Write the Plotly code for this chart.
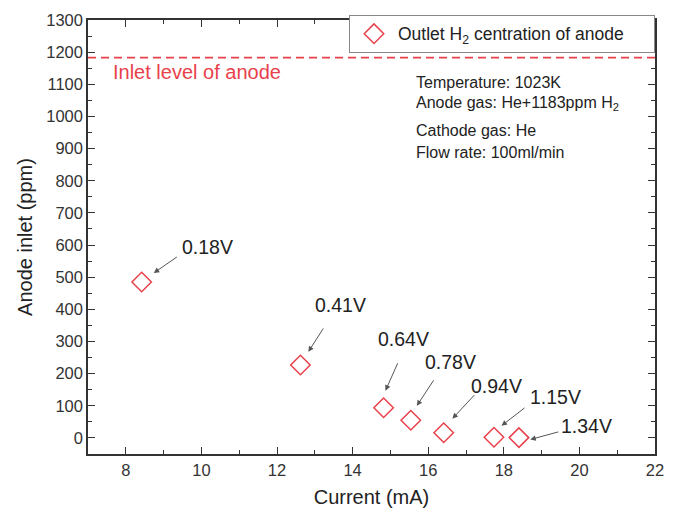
import plotly.graph_objects as go

# Data
current_mA = [8.42, 12.62, 14.82, 15.54, 16.41, 17.74, 18.40]
outlet_ppm = [485, 227, 94, 55, 16, 2, 1]
voltage_labels = ["0.18V", "0.41V", "0.64V", "0.78V", "0.94V", "1.15V", "1.34V"]
inlet_level_ppm = 1183

# label text offsets (data units, relative to point) and arrow tail/tip offsets
label_dx = [1.74, 1.07, 0.52, 1.05, 1.40, 1.64, 1.79]
label_dy = [109, 187, 214, 182, 147, 126, 37]
tail_dx = [0.97, 0.63, 0.39, 0.63, 0.85, 0.85, 1.08]
tail_dy = [81, 118, 143, 129, 122, 95, 19]
tip_dx = [0.32, 0.21, 0.05, 0.16, 0.23, 0.20, 0.30]
tip_dy = [28, 41, 53, 45, 44, 36, -6]

FONT = "Arial, Liberation Sans, sans-serif"
RED = "#e8414b"

fig = go.Figure()
fig.add_trace(go.Scatter(
    x=current_mA, y=outlet_ppm, mode="markers",
    name="Outlet H<sub>2</sub> centration of anode" + "\u00a0" * 5,
    marker=dict(symbol="diamond-open", size=15, color=RED, line=dict(width=1.5, color=RED)),
))
# inlet level dashed line
fig.add_trace(go.Scatter(
    x=[7, 22], y=[inlet_level_ppm, inlet_level_ppm], mode="lines",
    line=dict(color=RED, width=1.6, dash="8px,5px"), showlegend=False, hoverinfo="skip",
))

annotations = []
for xi, yi, lab, ldx, ldy, tdx, tdy, pdx, pdy in zip(current_mA, outlet_ppm, voltage_labels,
                                                      label_dx, label_dy, tail_dx, tail_dy, tip_dx, tip_dy):
    annotations.append(dict(x=xi + ldx, y=yi + ldy, text=lab, showarrow=False,
                            font=dict(size=19.5, color="#222", family=FONT)))
    annotations.append(dict(x=xi + pdx, y=yi + pdy, ax=xi + tdx, ay=yi + tdy,
                            xref="x", yref="y", axref="x", ayref="y", text="",
                            showarrow=True, arrowhead=2, arrowsize=1.1, arrowwidth=1,
                            arrowcolor="#555"))

annotations.append(dict(x=7.62, y=1137, xref="x", yref="y", xanchor="left", text="Inlet level of anode",
                        showarrow=False, font=dict(size=20, color=RED, family=FONT)))
cond = [("Temperature: 1023K", 1106), ("Anode gas: He+1183ppm H<sub>2</sub>", 1041),
        ("Cathode gas: He", 957), ("Flow rate: 100ml/min", 889)]
for t, yy in cond:
    annotations.append(dict(x=15.62, y=yy, xref="x", yref="y", xanchor="left", text=t,
                            showarrow=False, font=dict(size=16, color="#222", family=FONT)))

axis_common = dict(showline=True, linecolor="#333", linewidth=1.5, mirror="ticks",
                   ticks="inside", ticklen=7, tickwidth=1.3, tickcolor="#333",
                   showgrid=False, zeroline=False,
                   tickfont=dict(size=16.5, color="#333", family=FONT))

fig.update_layout(
    width=673, height=514,
    margin=dict(l=88, r=9, t=20, b=59),
    paper_bgcolor="white", plot_bgcolor="white",
    font=dict(family=FONT, color="#222"),
    xaxis=dict(range=[7, 22], dtick=2, tick0=0,
               minor=dict(dtick=1, ticks="inside", ticklen=4, tickcolor="#333", tickwidth=1.2),
               title=dict(text="Current (mA)", font=dict(size=20, color="#222"), standoff=12),
               **axis_common),
    yaxis=dict(range=[-50, 1300], dtick=100, tick0=0,
               minor=dict(dtick=50, ticks="inside", ticklen=4, tickcolor="#333", tickwidth=1.2),
               title=dict(text="Anode inlet (ppm)", font=dict(size=20, color="#222"), standoff=8),
               **axis_common),
    legend=dict(x=1, xanchor="right", y=1.012, yanchor="top", bgcolor="white",
                bordercolor="#888", borderwidth=1, itemwidth=38,
                font=dict(size=17.5, color="#222", family=FONT)),
    annotations=annotations,
)

fig.write_html("out.html")
